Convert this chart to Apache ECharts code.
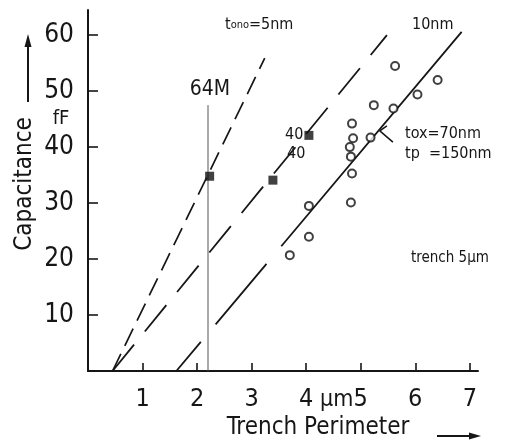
<!DOCTYPE html>
<html><head><meta charset="utf-8">
<script src="https://cdn.jsdelivr.net/npm/echarts@6/dist/echarts.min.js"></script>
<style>html,body{margin:0;padding:0;background:#fff}#c{width:514px;height:443px}</style>
</head><body><div id="c"></div>
<script>
// ---- data ----
const xTickLabels = ['1','2','3','4','5','6','7'];
const yTickLabels = ['10','20','30','40','50','60'];
const line5nm  = [[0.45,0],[3.24,55.9]];
const lineMid  = [[0.45,0],[5.48,60.0]];
const line10nm = [[1.62,0],[6.85,60.6]];
const line64M  = [[2.2,0],[2.2,47.5]];
const squares  = [[2.23,34.8],[3.39,34.1],[4.05,42.1]];
const circles  = [[5.63,54.5],[6.41,52.0],[6.04,49.4],[5.24,47.5],[5.60,46.9],[4.84,44.2],[4.86,41.6],[5.18,41.7],[4.80,40.0],[4.82,38.3],[4.84,35.3],[4.82,30.1],[4.05,29.5],[4.05,24.0],[3.70,20.7]];
const leader   = [[5.48,43.8],[5.35,42.9],[5.59,40.9]];

const F = '"DejaVu Sans Condensed","DejaVu Sans",sans-serif';
const INK = '#161616';
const chart = echarts.init(document.getElementById('c'), null, {renderer:'canvas'});

function lineSeries(data, type, width, color){
  return {type:'line', data, showSymbol:false, silent:true, animation:false,
    lineStyle:{color:color||INK, width:width||1.8, type:type||'solid'}, z:2};
}
function txt(x,y,text,size,align,extra){
  return Object.assign({type:'text', x, y, silent:true,
    style:Object.assign({text, font:'normal '+size+'px '+F, fontSize:size, fontFamily:F, fill:INK,
      textAlign:align||'left', align:align||'left', textVerticalAlign:'middle', verticalAlign:'middle'}, extra&&extra.style||{})},
    extra&&extra.el||{});
}

chart.setOption({
  backgroundColor:'#fff',
  animation:false,
  grid:{left:88, top:10, width:390, height:361, containLabel:false},
  xAxis:{type:'value', min:0, max:7.15, interval:1,
    axisLine:{lineStyle:{color:INK, width:2}},
    axisTick:{inside:true, length:8, lineStyle:{color:INK, width:1.6}},
    splitLine:{show:false},
    axisLabel:{margin:16, color:INK, fontSize:25, fontFamily:F, showMaxLabel:false,
      formatter:v=>{const i=Math.round(v)-1; return (Math.abs(v-Math.round(v))<1e-6 && i>=0 && i<xTickLabels.length)?xTickLabels[i]:'';}}
  },
  yAxis:{type:'value', min:0, max:64.5, interval:10,
    axisLine:{show:true, lineStyle:{color:INK, width:2}},
    axisTick:{show:true, inside:true, length:10, lineStyle:{color:INK, width:1.6}},
    splitLine:{show:false},
    axisLabel:{margin:14, color:INK, fontSize:26, fontFamily:F, showMaxLabel:false,
      formatter:v=>{const i=Math.round(v/10)-1; return (i>=0 && i<yTickLabels.length)?yTickLabels[i]:'';}}
  },
  series:[
    lineSeries(line64M, 'solid', 1, '#555'),
    lineSeries(line5nm, [19,9], 1.7),
    lineSeries(lineMid, [34,17], 1.8),
    lineSeries(line10nm, [38,23,79,23,1000], 1.8),
    lineSeries(leader, 'solid', 1.5),
    {type:'scatter', data:squares, symbol:'rect', symbolSize:9, silent:true, animation:false,
      itemStyle:{color:'#111'}, z:4},
    {type:'scatter', data:circles, symbol:'circle', symbolSize:8, silent:true, animation:false,
      itemStyle:{color:'#fff', borderColor:'#111', borderWidth:2}, z:4}
  ],
  graphic:[
    txt(25,184,'Capacitance',24,'center',{el:{rotation:Math.PI/2}}),
    {type:'line', silent:true, shape:{x1:28,y1:102,x2:28,y2:44}, style:{stroke:INK, lineWidth:2}},
    {type:'polygon', silent:true, shape:{points:[[28,34],[24.5,47],[31.5,47]]}, style:{fill:INK}},
    txt(61,119,'fF',20,'center'),
    txt(318,428,'Trench Perimeter',24,'center'),
    {type:'line', silent:true, shape:{x1:437,y1:436,x2:472,y2:436}, style:{stroke:INK, lineWidth:2}},
    {type:'polygon', silent:true, shape:{points:[[481,436],[469,432.5],[469,439.5]]}, style:{fill:INK}},
    txt(320,400,'μm',23,'left'),
    txt(210,90,'64M',21,'center'),
    {type:'text', x:225, y:25, silent:true, style:{text:'t{s|ono}=5nm', font:'normal 16px '+F, fill:INK,
      textVerticalAlign:'middle', verticalAlign:'middle',
      rich:{s:{fontSize:11, fontFamily:F, fill:INK}}}},
    txt(412,25,'10nm',16,'left'),
    txt(405,134,'tox=70nm',16,'left'),
    txt(405,154,'tp  =150nm',16,'left'),
    txt(411,258,'trench 5μm',15,'left'),
    txt(285,135,'40',16,'left'),
    txt(287,154,'40',16,'left')
  ]
});
</script></body></html>
